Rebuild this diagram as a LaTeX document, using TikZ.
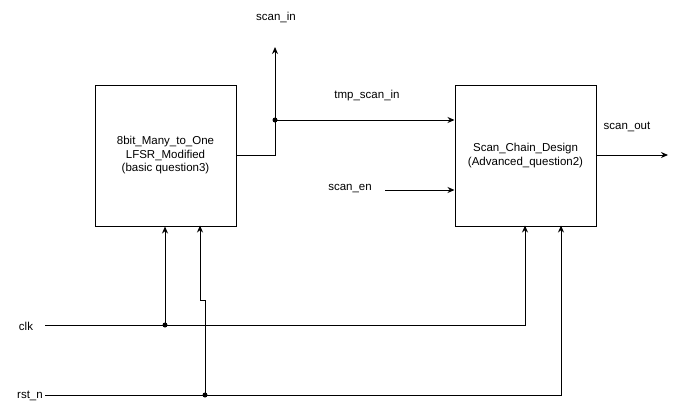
\documentclass[tikz,border=0pt]{standalone}
\usepackage{fontspec}
\setmainfont{Liberation Sans}
\usetikzlibrary{arrows.meta}
\begin{document}
\begin{tikzpicture}[x=1pt,y=-1pt,
  blk/.style={draw,line width=1pt,minimum width=141pt,minimum height=141pt,align=center,inner sep=0pt,font=\fontsize{11.5}{13.5}\selectfont},
  wire/.style={line width=1pt},
  arr/.style={wire,-{Stealth[length=7pt,width=6pt]}},
  lbl/.style={font=\fontsize{11.5}{13.5}\selectfont,inner sep=0pt},
  dot/.style={circle,fill,inner sep=0pt,minimum size=5pt}]
\useasboundingbox[fill=white] (0,0) rectangle (674,416);
\node[blk] (L) at (165.5,155.5) {8bit\_Many\_to\_One\\LFSR\_Modified\\(basic question3)};
\node[blk] (R) at (525.5,155.5) {Scan\_Chain\_Design\\(Advanced\_question2)};
\node[lbl] (scanin) at (276,17) {scan\_in};
\node[lbl] (tmp) at (367,96) {tmp\_scan\_in};
\node[lbl] (scanen) at (350,189) {scan\_en};
\node[lbl] (scanout) at (627,127) {scan\_out};
\node[lbl] (clk) at (26,326) {clk};
\node[lbl] (rstn) at (30,396) {rst\_n};
\node[dot] (d1) at (275,120) {};
\node[dot] (d2) at (165,325) {};
\node[dot] (d3) at (205,395) {};
\coordinate (sinTop) at (275,47);
\coordinate (soutEnd) at (668,155);
\coordinate (enStart) at (385,190);
\coordinate (clkStart) at (45,325);
\coordinate (rstStart) at (45,395);
\draw[wire] (L.east |- 0,155) -| (d1.center);
\draw[arr] (d1.center) -- (sinTop);
\draw[arr] (d1.center) -- (R.west |- d1);
\draw[arr] (enStart) -- (R.west |- enStart);
\draw[arr] (R.east |- soutEnd) -- (soutEnd);
\draw[wire] (clkStart) -- (d2.center);
\draw[arr] (d2.center) -- (L.south -| d2);
\draw[arr] (d2.center) -| (525,225.5);
\draw[wire] (rstStart) -- (d3.center);
\draw[arr] (d3.center) -- (205,300) -- (200,300) -- (200,225.5);
\draw[arr] (d3.center) -| (561,225.5);
\end{tikzpicture}
\end{document}
